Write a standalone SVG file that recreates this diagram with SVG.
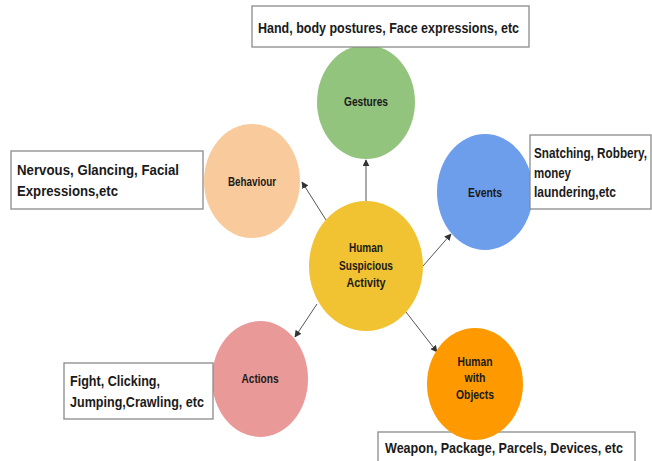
<svg xmlns="http://www.w3.org/2000/svg" width="652" height="461" viewBox="0 0 652 461">
<defs>
<style>
.box{fill:#fff;stroke:#8a8a8a;stroke-width:1.3}
.bt{font-family:"Liberation Sans",Arial,sans-serif;font-weight:bold;font-size:15px;fill:#1a1a1a}
.nt{font-family:"Liberation Sans",Arial,sans-serif;font-weight:bold;font-size:12px;fill:#1a1a1a;text-anchor:middle}
.conn{stroke:#555;stroke-width:1;fill:none;marker-end:url(#ah)}
</style>
<marker id="ah" viewBox="0 0 10 10" refX="9" refY="5" markerWidth="7" markerHeight="7" markerUnits="userSpaceOnUse" orient="auto">
<path d="M0,0 L10,5 L0,10 Z" fill="#333"/>
</marker>
</defs>
<rect width="652" height="461" fill="#fff"/>

<g id="connectors">
<line class="conn" x1="366" y1="201" x2="366" y2="160"/>
<line class="conn" x1="326" y1="220" x2="302" y2="182"/>
<line class="conn" x1="423" y1="266" x2="451" y2="234"/>
<line class="conn" x1="317" y1="304" x2="295" y2="337"/>
<line class="conn" x1="406" y1="312" x2="437" y2="352"/>
</g>

<g id="gestures">
<ellipse cx="366" cy="102" rx="49" ry="57" fill="#93c47d"/>
<text class="nt" x="366" y="106" textLength="44" lengthAdjust="spacingAndGlyphs">Gestures</text>
</g>
<g id="gestures-note">
<rect class="box" x="252" y="6" width="277" height="41"/>
<text class="bt" x="258" y="33" textLength="261" lengthAdjust="spacingAndGlyphs">Hand, body postures, Face expressions, etc</text>
</g>

<g id="behaviour">
<ellipse cx="252" cy="181" rx="48" ry="57" fill="#f9cb9c"/>
<text class="nt" x="252" y="186" textLength="48" lengthAdjust="spacingAndGlyphs">Behaviour</text>
</g>
<g id="behaviour-note">
<rect class="box" x="11" y="151" width="192" height="58"/>
<text class="bt" x="17" y="175" textLength="162" lengthAdjust="spacingAndGlyphs">Nervous, Glancing, Facial</text>
<text class="bt" x="17" y="196" textLength="101" lengthAdjust="spacingAndGlyphs">Expressions,etc</text>
</g>

<g id="center">
<ellipse cx="366" cy="266" rx="57" ry="65" fill="#f1c232"/>
<text class="nt" x="366" y="252" textLength="34" lengthAdjust="spacingAndGlyphs">Human</text>
<text class="nt" x="366" y="270" textLength="54" lengthAdjust="spacingAndGlyphs">Suspicious</text>
<text class="nt" x="366" y="287" textLength="39" lengthAdjust="spacingAndGlyphs">Activity</text>
</g>

<g id="events">
<ellipse cx="485" cy="192" rx="48" ry="58" fill="#6d9eeb"/>
<text class="nt" x="485" y="197" textLength="34" lengthAdjust="spacingAndGlyphs">Events</text>
</g>
<g id="events-note">
<rect class="box" x="530" y="135" width="121" height="74"/>
<text class="bt" x="534" y="158" textLength="113" lengthAdjust="spacingAndGlyphs">Snatching, Robbery,</text>
<text class="bt" x="534" y="178" textLength="37" lengthAdjust="spacingAndGlyphs">money</text>
<text class="bt" x="534" y="197" textLength="82" lengthAdjust="spacingAndGlyphs">laundering,etc</text>
</g>

<g id="actions">
<ellipse cx="260" cy="379" rx="48" ry="58" fill="#ea9999"/>
<text class="nt" x="260" y="383" textLength="37" lengthAdjust="spacingAndGlyphs">Actions</text>
</g>
<g id="actions-note">
<rect class="box" x="64" y="363" width="149" height="56"/>
<text class="bt" x="70" y="386" textLength="90" lengthAdjust="spacingAndGlyphs">Fight, Clicking,</text>
<text class="bt" x="70" y="407" textLength="134" lengthAdjust="spacingAndGlyphs">Jumping,Crawling, etc</text>
</g>

<g id="objects-note">
<rect class="box" x="378" y="432" width="257" height="40"/>
<text class="bt" x="385" y="453" textLength="238" lengthAdjust="spacingAndGlyphs">Weapon, Package, Parcels, Devices, etc</text>
</g>
<g id="objects">
<ellipse cx="475" cy="384" rx="48" ry="56" fill="#ff9900"/>
<text class="nt" x="475" y="366" textLength="35" lengthAdjust="spacingAndGlyphs">Human</text>
<text class="nt" x="475" y="382" textLength="21" lengthAdjust="spacingAndGlyphs">with</text>
<text class="nt" x="475" y="399" textLength="38" lengthAdjust="spacingAndGlyphs">Objects</text>
</g>
</svg>
